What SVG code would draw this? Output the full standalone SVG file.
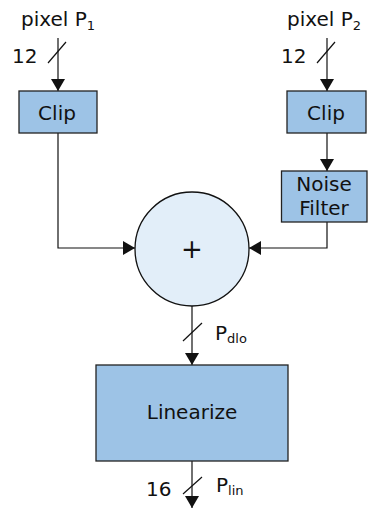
<svg xmlns="http://www.w3.org/2000/svg" width="368" height="508" viewBox="0 0 368 508">
<style>
text{font-family:"DejaVu Sans","Liberation Sans",sans-serif;font-size:20px;fill:#111}
.box{fill:#9dc3e6;stroke:#222;stroke-width:1.3}
.circ{fill:#e2eef9;stroke:#111;stroke-width:1.3}
.wire{fill:none;stroke:#111;stroke-width:1.2}
.sub{font-size:13px}
.mid{text-anchor:middle}
</style>
<defs>
<marker id="arr" viewBox="0 0 12 14" refX="12" refY="7" markerWidth="12" markerHeight="14" markerUnits="userSpaceOnUse" orient="auto">
<path d="M0,0 L12,7 L0,14 Z" fill="#111"/>
</marker>
</defs>
<rect width="368" height="508" fill="#fff"/>
<g id="connectors">
<line class="wire" x1="58" y1="38" x2="58" y2="91" marker-end="url(#arr)"/>
<line class="wire" x1="48" y1="63" x2="66" y2="42"/>
<line class="wire" x1="327" y1="38" x2="327" y2="91" marker-end="url(#arr)"/>
<line class="wire" x1="317" y1="63" x2="335" y2="42"/>
<line class="wire" x1="327" y1="133" x2="327" y2="171" marker-end="url(#arr)"/>
<polyline class="wire" points="58,133 58,248 135,248" marker-end="url(#arr)"/>
<polyline class="wire" points="327,222 327,248 249,248" marker-end="url(#arr)"/>
<line class="wire" x1="192" y1="306" x2="192" y2="365" marker-end="url(#arr)"/>
<line class="wire" x1="183" y1="341" x2="202" y2="323"/>
<line class="wire" x1="192" y1="461" x2="192" y2="508" marker-end="url(#arr)"/>
<line class="wire" x1="183" y1="494" x2="202" y2="477"/>
</g>
<g id="label-p1"><text x="21" y="26">pixel P<tspan class="sub" dy="4">1</tspan></text></g>
<g id="label-p2"><text x="287" y="26">pixel P<tspan class="sub" dy="4">2</tspan></text></g>
<g id="label-12a"><text x="12" y="63">12</text></g>
<g id="label-12b"><text x="281" y="63">12</text></g>
<g id="clip1"><rect class="box" x="19" y="91" width="78" height="42"/><text class="mid" x="57" y="120">Clip</text></g>
<g id="clip2"><rect class="box" x="287" y="91" width="79" height="42"/><text class="mid" x="326" y="120">Clip</text></g>
<g id="noise"><rect class="box" x="281.5" y="171" width="85.5" height="51"/><text class="mid" x="324" y="191">Noise</text><text class="mid" x="324" y="215">Filter</text></g>
<g id="sum"><circle class="circ" cx="192" cy="249" r="57"/><text class="mid" x="192" y="258" style="font-size:26px">+</text></g>
<g id="label-pdlo"><text x="215" y="340">P<tspan class="sub" dy="3">dlo</tspan></text></g>
<g id="linearize"><rect class="box" x="96" y="365" width="192" height="96"/><text class="mid" x="192" y="419">Linearize</text></g>
<g id="label-16"><text x="146" y="496">16</text></g>
<g id="label-plin"><text x="216" y="492">P<tspan class="sub" dy="3">lin</tspan></text></g>
</svg>
